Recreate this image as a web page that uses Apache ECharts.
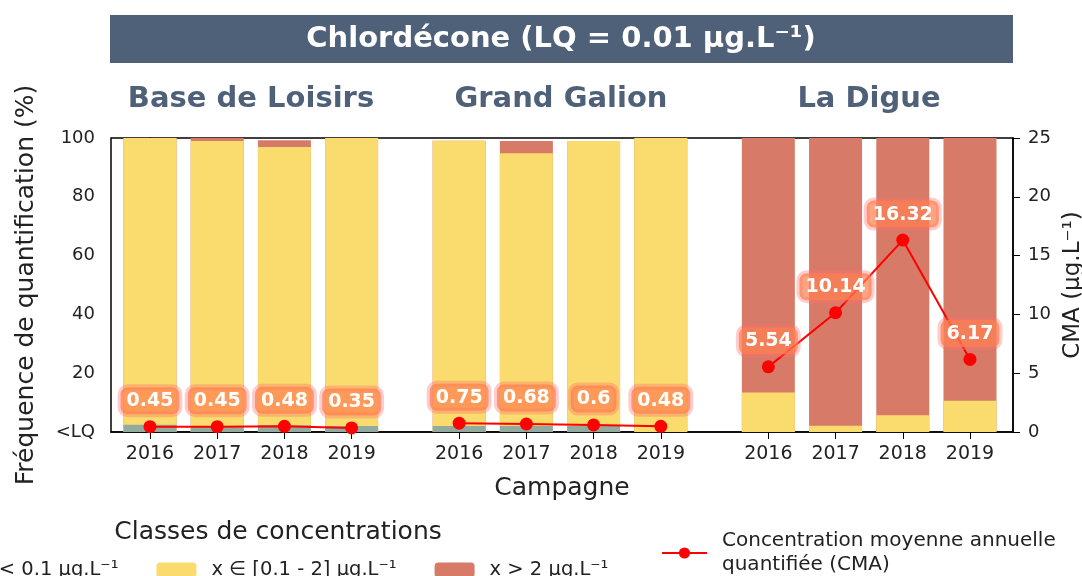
<!DOCTYPE html>
<html>
<head>
<meta charset="utf-8">
<script src="https://cdn.jsdelivr.net/npm/echarts@6/dist/echarts.min.js"></script>
<style>
html,body{margin:0;padding:0;background:#fff;}
#chart{width:1082px;height:576px;}
</style>
</head>
<body>
<div id="chart"></div>
<script>
var sites = ['Base de Loisirs', 'Grand Galion', 'La Digue'];
var years = ['2016', '2017', '2018', '2019'];
// frequences (%) par classe, 4 annees par site
var lowVals  = [2.5, 2, 2.3, 2,   2, 2, 2, 0,        0, 0, 0, 0];
var midVals  = [97.5, 97, 94.6, 98,   97.1, 92.8, 97, 100,   13.4, 2.1, 5.7, 10.6];
var highVals = [0, 1, 2.3, 0,   0, 4.2, 0, 0,   86.6, 97.9, 94.3, 89.4];
// CMA (ug/L)
var cmaVals = [0.45, 0.45, 0.48, 0.35,   0.75, 0.68, 0.6, 0.48,   5.54, 10.14, 16.32, 6.17];

var classNames = ['x < 0.1 µg.L⁻¹', 'x ∈ [0.1 - 2] µg.L⁻¹', 'x > 2 µg.L⁻¹'];
var classColors = ['#92ab9e', '#f9db6e', '#d77b68'];
var cmaName = 'Concentration moyenne annuelle\nquantifiée (CMA)';
var font = 'DejaVu Sans';

// x position of each bar: 4 per site, gap between sites
var groupStep = 4.6;
var xs = [];
sites.forEach(function (s, g) {
    years.forEach(function (y, i) { xs.push(g * groupStep + i); });
});

var myChart = echarts.init(document.getElementById('chart'));

// stacked bars drawn as overlapping cumulative bars (top class first)
var classVals = [lowVals, midVals, highVals];
var series = [];
for (var k = 2; k >= 0; k--) {
    (function (k) {
        series.push({
            name: classNames[k],
            type: 'bar',
            barWidth: 53,
            barGap: '-100%',
            itemStyle: {color: classColors[k]},
            data: xs.map(function (x, i) {
                var sum = 0;
                for (var j = 0; j <= k; j++) sum += classVals[j][i];
                return [x, sum];
            })
        });
    })(k);
}
sites.forEach(function (s, g) {
    var pts = [];
    for (var i = 0; i < 4; i++) {
        pts.push([xs[g * 4 + i], cmaVals[g * 4 + i]]);
    }
    series.push({
        name: cmaName,
        type: 'line',
        yAxisIndex: 1,
        symbol: 'circle',
        symbolSize: 13,
        lineStyle: {color: '#ff0000', width: 2},
        itemStyle: {color: '#ff0000'},
        z: 5,
        label: {
            show: true,
            position: 'top',
            distance: 6,
            formatter: function (p) { return p.value[1]; },
            color: '#fff',
            fontWeight: 'bold',
            fontFamily: font,
            fontSize: 19,
            lineHeight: 22,
            backgroundColor: 'rgba(255,127,80,0.72)',
            borderColor: 'rgba(255,110,110,0.35)',
            borderWidth: 3,
            borderRadius: 7,
            padding: [3, 6, 2, 6]
        },
        data: pts
    });
});

var option = {
    animation: false,
    textStyle: {fontFamily: font},
    grid: {
        left: 111, right: 69, top: 138, bottom: 144,
        outerBoundsMode: 'none',
        show: true, borderColor: '#000', borderWidth: 1.5
    },
    graphic: [
        {
            type: 'rect', left: 110, top: 15,
            shape: {width: 903, height: 48},
            style: {fill: '#4f6079'}
        },
        {
            type: 'text', x: 561, y: 39,
            style: {
                text: 'Chlordécone (LQ = 0.01 µg.L⁻¹)', fill: '#fff',
                font: 'bold 29px "DejaVu Sans"', align: 'center', verticalAlign: 'middle'
            }
        },
        {
            type: 'text', x: 251, y: 99,
            style: {text: sites[0], fill: '#4f6079', font: 'bold 29px "DejaVu Sans"', align: 'center', verticalAlign: 'middle'}
        },
        {
            type: 'text', x: 561, y: 99,
            style: {text: sites[1], fill: '#4f6079', font: 'bold 29px "DejaVu Sans"', align: 'center', verticalAlign: 'middle'}
        },
        {
            type: 'text', x: 869, y: 99,
            style: {text: sites[2], fill: '#4f6079', font: 'bold 29px "DejaVu Sans"', align: 'center', verticalAlign: 'middle'}
        },
        {
            type: 'text', x: 278, y: 532,
            style: {text: 'Classes de concentrations', fill: '#222', font: '25px "DejaVu Sans"', align: 'center', verticalAlign: 'middle'}
        }
    ],
    legend: [
        {
            data: classNames,
            left: -79, top: 555,
            itemWidth: 40, itemHeight: 15, itemGap: 38,
            textStyle: {fontSize: 19.5, color: '#222', fontFamily: font, padding: [0, 0, 0, 10]}
        },
        {
            data: [cmaName],
            left: 656, top: 524,
            itemWidth: 45, itemHeight: 14,
            textStyle: {fontSize: 20, color: '#222', fontFamily: font, lineHeight: 24, padding: [0, 0, 0, 10]}
        }
    ],
    xAxis: {
        type: 'value',
        min: -0.58,
        max: 12.84,
        name: 'Campagne',
        nameLocation: 'middle',
        nameGap: 44,
        nameTextStyle: {fontSize: 25, color: '#222'},
        splitLine: {show: false},
        axisLine: {show: true, lineStyle: {color: '#000', width: 1.5}},
        axisTick: {show: true, customValues: xs, length: 7, lineStyle: {color: '#000'}},
        axisLabel: {
            customValues: xs,
            fontSize: 19, color: '#222', margin: 13,
            formatter: function (v) {
                var i = xs.indexOf(v);
                return i >= 0 ? years[i % 4] : '';
            }
        }
    },
    yAxis: [
        {
            type: 'value', min: 0, max: 100, interval: 20,
            name: 'Fréquence de quantification (%)',
            nameLocation: 'middle', nameGap: 72, nameRotate: 90,
            nameTextStyle: {fontSize: 25, color: '#222'},
            splitLine: {show: false},
            axisLine: {show: true, lineStyle: {color: '#000', width: 1.5}},
            axisTick: {show: true, length: 7, lineStyle: {color: '#000'}},
            axisLabel: {
                fontSize: 18, color: '#222', margin: 16,
                formatter: function (v) { return v === 0 ? '<LQ' : v; }
            }
        },
        {
            type: 'value', min: 0, max: 25, interval: 5, position: 'right',
            name: 'CMA (µg.L⁻¹)',
            nameLocation: 'middle', nameGap: 47, nameRotate: 90,
            nameTextStyle: {fontSize: 23, color: '#222'},
            splitLine: {show: false},
            axisLine: {show: true, lineStyle: {color: '#000', width: 1.5}},
            axisTick: {show: true, length: 7, lineStyle: {color: '#000'}},
            axisLabel: {fontSize: 18, color: '#222', margin: 15}
        }
    ],
    series: series
};
myChart.setOption(option);
</script>
</body>
</html>
